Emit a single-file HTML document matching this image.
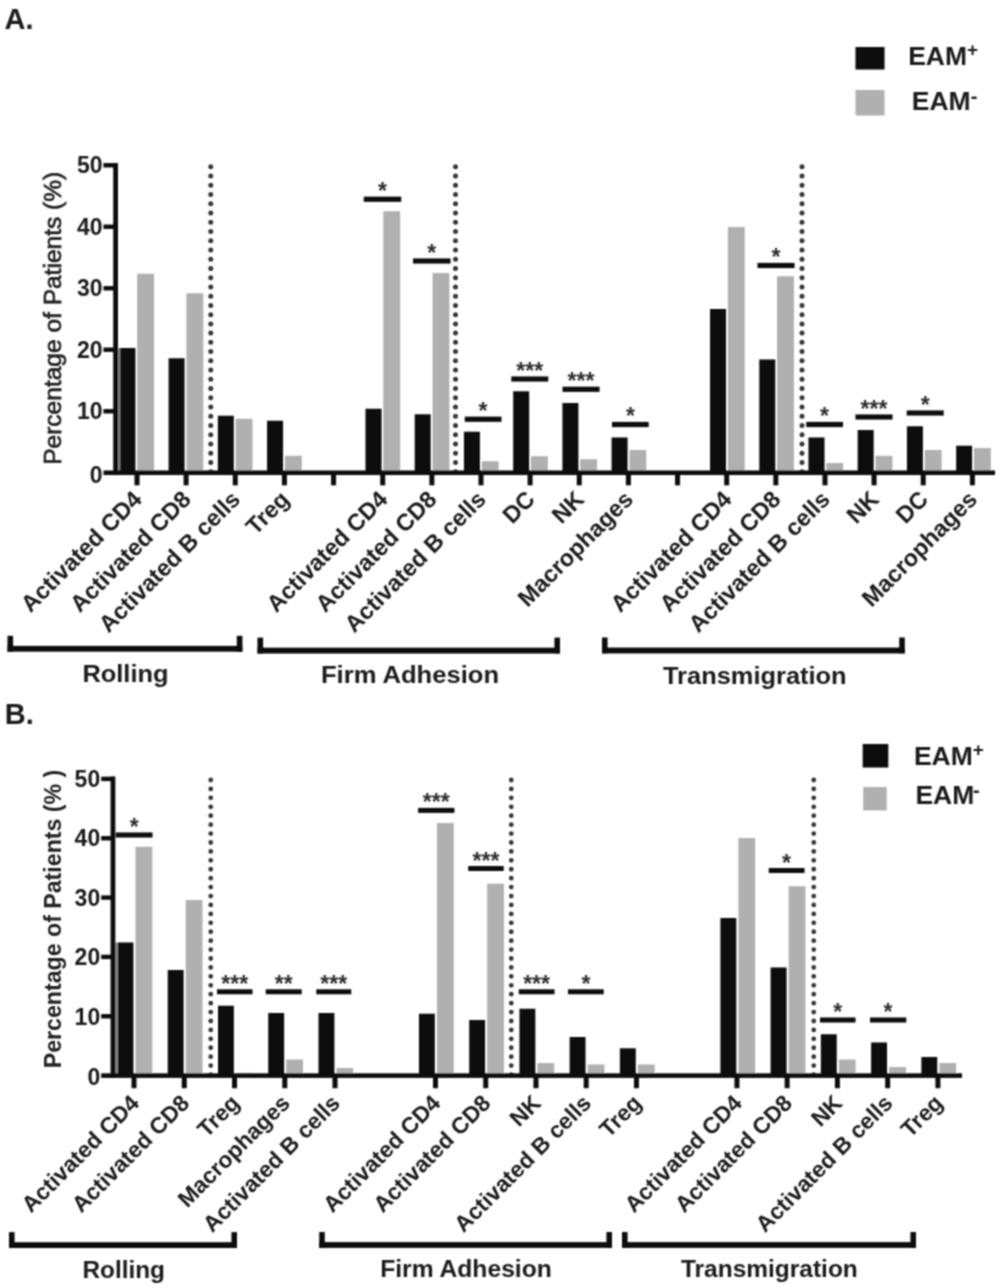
<!DOCTYPE html>
<html lang="en"><head><meta charset="utf-8"><title>Figure</title>
<style>html,body{margin:0;padding:0;background:#fff}svg{display:block;font-family:'Liberation Sans', sans-serif}</style>
</head><body>
<svg width="1000" height="1288" viewBox="0 0 1000 1288">
<defs><filter id="soft" filterUnits="userSpaceOnUse" x="0" y="0" width="1000" height="1288"><feConvolveMatrix order="3" kernelMatrix="1 2 1 2 4 2 1 2 1" divisor="16" edgeMode="duplicate" preserveAlpha="false"/></filter></defs>
<rect width="1000" height="1288" fill="#fff"/>
<g filter="url(#soft)">
<rect x="119.40" y="348.00" width="16.00" height="124.75" fill="#0d0d0d"/>
<rect x="137.20" y="273.75" width="16.90" height="199.00" fill="#b0b0b0"/>
<rect x="168.62" y="358.25" width="16.00" height="114.50" fill="#0d0d0d"/>
<rect x="186.42" y="293.25" width="16.90" height="179.50" fill="#b0b0b0"/>
<rect x="217.84" y="415.75" width="16.00" height="57.00" fill="#0d0d0d"/>
<rect x="235.64" y="418.75" width="16.90" height="54.00" fill="#b0b0b0"/>
<rect x="267.06" y="420.75" width="16.00" height="52.00" fill="#0d0d0d"/>
<rect x="284.86" y="455.75" width="16.90" height="17.00" fill="#b0b0b0"/>
<rect x="365.50" y="408.75" width="16.00" height="64.00" fill="#0d0d0d"/>
<rect x="383.30" y="211.25" width="16.90" height="261.50" fill="#b0b0b0"/>
<rect x="414.72" y="414.25" width="16.00" height="58.50" fill="#0d0d0d"/>
<rect x="432.52" y="273.00" width="16.90" height="199.75" fill="#b0b0b0"/>
<rect x="463.94" y="431.75" width="16.00" height="41.00" fill="#0d0d0d"/>
<rect x="481.74" y="461.25" width="16.90" height="11.50" fill="#b0b0b0"/>
<rect x="513.16" y="391.25" width="16.00" height="81.50" fill="#0d0d0d"/>
<rect x="530.96" y="456.25" width="16.90" height="16.50" fill="#b0b0b0"/>
<rect x="562.38" y="403.00" width="16.00" height="69.75" fill="#0d0d0d"/>
<rect x="580.18" y="459.25" width="16.90" height="13.50" fill="#b0b0b0"/>
<rect x="611.60" y="437.50" width="16.00" height="35.25" fill="#0d0d0d"/>
<rect x="629.40" y="450.00" width="16.90" height="22.75" fill="#b0b0b0"/>
<rect x="710.04" y="309.00" width="16.00" height="163.75" fill="#0d0d0d"/>
<rect x="727.84" y="227.00" width="16.90" height="245.75" fill="#b0b0b0"/>
<rect x="759.26" y="359.50" width="16.00" height="113.25" fill="#0d0d0d"/>
<rect x="777.06" y="276.25" width="16.90" height="196.50" fill="#b0b0b0"/>
<rect x="808.48" y="437.50" width="16.00" height="35.25" fill="#0d0d0d"/>
<rect x="826.28" y="463.00" width="16.90" height="9.75" fill="#b0b0b0"/>
<rect x="857.70" y="430.00" width="16.00" height="42.75" fill="#0d0d0d"/>
<rect x="875.50" y="455.75" width="16.90" height="17.00" fill="#b0b0b0"/>
<rect x="906.92" y="426.25" width="16.00" height="46.50" fill="#0d0d0d"/>
<rect x="924.72" y="450.00" width="16.90" height="22.75" fill="#b0b0b0"/>
<rect x="956.14" y="445.75" width="16.00" height="27.00" fill="#0d0d0d"/>
<rect x="973.94" y="448.00" width="16.90" height="24.75" fill="#b0b0b0"/>
<line x1="210.75" y1="166.75" x2="210.75" y2="472.0" stroke="#383838" stroke-width="5.0" stroke-linecap="round" stroke-dasharray="0 9.243"/>
<line x1="455.5" y1="166.75" x2="455.5" y2="472.0" stroke="#383838" stroke-width="5.0" stroke-linecap="round" stroke-dasharray="0 9.243"/>
<line x1="802.0" y1="166.75" x2="802.0" y2="472.0" stroke="#383838" stroke-width="5.0" stroke-linecap="round" stroke-dasharray="0 9.243"/>
<rect x="117.80" y="348.00" width="2.50" height="124.75" fill="#808080"/>
<rect x="113.20" y="163.00" width="4.80" height="312.05" fill="#0d0d0d"/>
<rect x="103.50" y="470.45" width="891.50" height="4.60" fill="#0d0d0d"/>
<rect x="103.50" y="409.05" width="10.70" height="4.40" fill="#0d0d0d"/>
<rect x="103.50" y="347.55" width="10.70" height="4.40" fill="#0d0d0d"/>
<rect x="103.50" y="286.05" width="10.70" height="4.40" fill="#0d0d0d"/>
<rect x="103.50" y="224.55" width="10.70" height="4.40" fill="#0d0d0d"/>
<rect x="103.50" y="163.05" width="10.70" height="4.40" fill="#0d0d0d"/>
<text x="102.5" y="483.2" text-anchor="end" font-size="23" font-weight="bold" fill="#1a1a1a">0</text>
<text x="102.5" y="419.4" text-anchor="end" font-size="23" font-weight="bold" fill="#1a1a1a">10</text>
<text x="102.5" y="357.9" text-anchor="end" font-size="23" font-weight="bold" fill="#1a1a1a">20</text>
<text x="102.5" y="296.4" text-anchor="end" font-size="23" font-weight="bold" fill="#1a1a1a">30</text>
<text x="102.5" y="234.9" text-anchor="end" font-size="23" font-weight="bold" fill="#1a1a1a">40</text>
<text x="102.5" y="173.4" text-anchor="end" font-size="23" font-weight="bold" fill="#1a1a1a">50</text>
<rect x="134.50" y="472.75" width="5.00" height="12.55" fill="#0d0d0d"/>
<rect x="183.64" y="472.75" width="5.00" height="12.55" fill="#0d0d0d"/>
<rect x="232.78" y="472.75" width="5.00" height="12.55" fill="#0d0d0d"/>
<rect x="281.92" y="472.75" width="5.00" height="12.55" fill="#0d0d0d"/>
<rect x="331.06" y="472.75" width="5.00" height="12.55" fill="#0d0d0d"/>
<rect x="380.20" y="472.75" width="5.00" height="12.55" fill="#0d0d0d"/>
<rect x="429.34" y="472.75" width="5.00" height="12.55" fill="#0d0d0d"/>
<rect x="478.48" y="472.75" width="5.00" height="12.55" fill="#0d0d0d"/>
<rect x="527.62" y="472.75" width="5.00" height="12.55" fill="#0d0d0d"/>
<rect x="576.76" y="472.75" width="5.00" height="12.55" fill="#0d0d0d"/>
<rect x="625.90" y="472.75" width="5.00" height="12.55" fill="#0d0d0d"/>
<rect x="675.04" y="472.75" width="5.00" height="12.55" fill="#0d0d0d"/>
<rect x="724.18" y="472.75" width="5.00" height="12.55" fill="#0d0d0d"/>
<rect x="773.32" y="472.75" width="5.00" height="12.55" fill="#0d0d0d"/>
<rect x="822.46" y="472.75" width="5.00" height="12.55" fill="#0d0d0d"/>
<rect x="871.60" y="472.75" width="5.00" height="12.55" fill="#0d0d0d"/>
<rect x="920.74" y="472.75" width="5.00" height="12.55" fill="#0d0d0d"/>
<rect x="969.88" y="472.75" width="5.00" height="12.55" fill="#0d0d0d"/>
<rect x="363.75" y="196.65" width="37.50" height="5.20" fill="#0d0d0d"/>
<text x="382.5" y="198.8" text-anchor="middle" font-size="23" font-weight="bold" fill="#2e2e2e">*</text>
<rect x="413.00" y="258.40" width="37.50" height="5.20" fill="#0d0d0d"/>
<text x="431.8" y="260.6" text-anchor="middle" font-size="23" font-weight="bold" fill="#2e2e2e">*</text>
<rect x="464.75" y="416.65" width="36.75" height="5.20" fill="#0d0d0d"/>
<text x="483.1" y="418.8" text-anchor="middle" font-size="23" font-weight="bold" fill="#2e2e2e">*</text>
<rect x="511.25" y="376.40" width="37.00" height="5.20" fill="#0d0d0d"/>
<text x="529.8" y="378.6" text-anchor="middle" font-size="23" font-weight="bold" fill="#2e2e2e">***</text>
<rect x="562.50" y="386.70" width="37.00" height="5.20" fill="#0d0d0d"/>
<text x="581.0" y="388.9" text-anchor="middle" font-size="23" font-weight="bold" fill="#2e2e2e">***</text>
<rect x="612.00" y="421.90" width="36.75" height="5.20" fill="#0d0d0d"/>
<text x="630.4" y="424.1" text-anchor="middle" font-size="23" font-weight="bold" fill="#2e2e2e">*</text>
<rect x="757.50" y="262.90" width="37.00" height="5.20" fill="#0d0d0d"/>
<text x="776.0" y="265.1" text-anchor="middle" font-size="23" font-weight="bold" fill="#2e2e2e">*</text>
<rect x="806.25" y="421.90" width="36.75" height="5.20" fill="#0d0d0d"/>
<text x="824.6" y="424.1" text-anchor="middle" font-size="23" font-weight="bold" fill="#2e2e2e">*</text>
<rect x="855.50" y="414.40" width="37.00" height="5.20" fill="#0d0d0d"/>
<text x="874.0" y="416.6" text-anchor="middle" font-size="23" font-weight="bold" fill="#2e2e2e">***</text>
<rect x="906.75" y="410.40" width="37.00" height="5.20" fill="#0d0d0d"/>
<text x="925.2" y="412.6" text-anchor="middle" font-size="23" font-weight="bold" fill="#2e2e2e">*</text>
<text transform="translate(143.2,500.8) rotate(-45)" text-anchor="end" font-size="23.5" font-weight="bold" fill="#1a1a1a">Activated CD4</text>
<text transform="translate(192.3,500.8) rotate(-45)" text-anchor="end" font-size="23.5" font-weight="bold" fill="#1a1a1a">Activated CD8</text>
<text transform="translate(241.5,500.8) rotate(-45)" text-anchor="end" font-size="23.5" font-weight="bold" fill="#1a1a1a">Activated B cells</text>
<text transform="translate(290.6,500.8) rotate(-45)" text-anchor="end" font-size="23.5" font-weight="bold" fill="#1a1a1a">Treg</text>
<text transform="translate(388.9,500.8) rotate(-45)" text-anchor="end" font-size="23.5" font-weight="bold" fill="#1a1a1a">Activated CD4</text>
<text transform="translate(438.0,500.8) rotate(-45)" text-anchor="end" font-size="23.5" font-weight="bold" fill="#1a1a1a">Activated CD8</text>
<text transform="translate(487.2,500.8) rotate(-45)" text-anchor="end" font-size="23.5" font-weight="bold" fill="#1a1a1a">Activated B cells</text>
<text transform="translate(536.3,500.8) rotate(-45)" text-anchor="end" font-size="23.5" font-weight="bold" fill="#1a1a1a">DC</text>
<text transform="translate(585.5,500.8) rotate(-45)" text-anchor="end" font-size="23.5" font-weight="bold" fill="#1a1a1a">NK</text>
<text transform="translate(634.6,500.8) rotate(-45)" text-anchor="end" font-size="23.5" font-weight="bold" fill="#1a1a1a">Macrophages</text>
<text transform="translate(732.9,500.8) rotate(-45)" text-anchor="end" font-size="23.5" font-weight="bold" fill="#1a1a1a">Activated CD4</text>
<text transform="translate(782.0,500.8) rotate(-45)" text-anchor="end" font-size="23.5" font-weight="bold" fill="#1a1a1a">Activated CD8</text>
<text transform="translate(831.2,500.8) rotate(-45)" text-anchor="end" font-size="23.5" font-weight="bold" fill="#1a1a1a">Activated B cells</text>
<text transform="translate(880.3,500.8) rotate(-45)" text-anchor="end" font-size="23.5" font-weight="bold" fill="#1a1a1a">NK</text>
<text transform="translate(929.4,500.8) rotate(-45)" text-anchor="end" font-size="23.5" font-weight="bold" fill="#1a1a1a">DC</text>
<text transform="translate(978.6,500.8) rotate(-45)" text-anchor="end" font-size="23.5" font-weight="bold" fill="#1a1a1a">Macrophages</text>
<rect x="7.50" y="645.90" width="234.90" height="5.80" fill="#0d0d0d"/>
<rect x="7.50" y="635.80" width="5.60" height="15.90" fill="#0d0d0d"/>
<rect x="236.80" y="635.80" width="5.60" height="15.90" fill="#0d0d0d"/>
<text x="82.4" y="681.8" font-size="24" font-weight="bold" textLength="86.2" lengthAdjust="spacingAndGlyphs" fill="#1a1a1a">Rolling</text>
<rect x="257.50" y="647.70" width="302.50" height="5.80" fill="#0d0d0d"/>
<rect x="257.50" y="637.60" width="5.60" height="15.90" fill="#0d0d0d"/>
<rect x="554.40" y="637.60" width="5.60" height="15.90" fill="#0d0d0d"/>
<text x="321.0" y="683.4" font-size="24" font-weight="bold" textLength="178.0" lengthAdjust="spacingAndGlyphs" fill="#1a1a1a">Firm Adhesion</text>
<rect x="602.00" y="647.60" width="302.80" height="5.80" fill="#0d0d0d"/>
<rect x="602.00" y="637.50" width="5.60" height="15.90" fill="#0d0d0d"/>
<rect x="899.20" y="637.50" width="5.60" height="15.90" fill="#0d0d0d"/>
<text x="663.0" y="683.6" font-size="24" font-weight="bold" textLength="183.6" lengthAdjust="spacingAndGlyphs" fill="#1a1a1a">Transmigration</text>
<text transform="translate(61,318.3) rotate(-90)" text-anchor="middle" font-size="24.8" font-weight="normal" textLength="293" lengthAdjust="spacingAndGlyphs" fill="#242424" stroke="#242424" stroke-width="0.7">Percentage of Patients (%)</text>
<rect x="855.50" y="47.00" width="29.00" height="22.50" fill="#0d0d0d"/>
<text x="908.2" y="64.8" font-size="26.5" font-weight="bold" fill="#1a1a1a">EAM<tspan font-size="19" dx="0" dy="-9">+</tspan></text>
<rect x="855.50" y="90.00" width="29.00" height="25.50" fill="#b0b0b0"/>
<text x="911.8" y="110" font-size="26.5" font-weight="bold" fill="#1a1a1a">EAM<tspan font-size="20" dx="0" dy="-7.5">-</tspan></text>
<text x="4.5" y="29.4" font-size="29" font-weight="bold" fill="#1a1a1a">A.</text>
</g>
<g filter="url(#soft)">
<rect x="117.50" y="942.50" width="15.90" height="133.10" fill="#0d0d0d"/>
<rect x="135.50" y="846.75" width="16.80" height="228.85" fill="#b0b0b0"/>
<rect x="167.74" y="970.00" width="15.90" height="105.60" fill="#0d0d0d"/>
<rect x="185.74" y="900.00" width="16.80" height="175.60" fill="#b0b0b0"/>
<rect x="217.98" y="1005.75" width="15.90" height="69.85" fill="#0d0d0d"/>
<rect x="235.98" y="1072.80" width="16.80" height="2.80" fill="#b0b0b0"/>
<rect x="268.22" y="1013.00" width="15.90" height="62.60" fill="#0d0d0d"/>
<rect x="286.22" y="1059.50" width="16.80" height="16.10" fill="#b0b0b0"/>
<rect x="318.46" y="1013.00" width="15.90" height="62.60" fill="#0d0d0d"/>
<rect x="336.46" y="1068.00" width="16.80" height="7.60" fill="#b0b0b0"/>
<rect x="418.94" y="1013.75" width="15.90" height="61.85" fill="#0d0d0d"/>
<rect x="436.94" y="823.00" width="16.80" height="252.60" fill="#b0b0b0"/>
<rect x="469.18" y="1020.00" width="15.90" height="55.60" fill="#0d0d0d"/>
<rect x="487.18" y="883.75" width="16.80" height="191.85" fill="#b0b0b0"/>
<rect x="519.42" y="1008.75" width="15.90" height="66.85" fill="#0d0d0d"/>
<rect x="537.42" y="1063.00" width="16.80" height="12.60" fill="#b0b0b0"/>
<rect x="569.66" y="1037.00" width="15.90" height="38.60" fill="#0d0d0d"/>
<rect x="587.66" y="1064.50" width="16.80" height="11.10" fill="#b0b0b0"/>
<rect x="619.90" y="1048.25" width="15.90" height="27.35" fill="#0d0d0d"/>
<rect x="637.90" y="1064.50" width="16.80" height="11.10" fill="#b0b0b0"/>
<rect x="720.38" y="918.00" width="15.90" height="157.60" fill="#0d0d0d"/>
<rect x="738.38" y="838.00" width="16.80" height="237.60" fill="#b0b0b0"/>
<rect x="770.62" y="967.50" width="15.90" height="108.10" fill="#0d0d0d"/>
<rect x="788.62" y="886.25" width="16.80" height="189.35" fill="#b0b0b0"/>
<rect x="820.86" y="1034.25" width="15.90" height="41.35" fill="#0d0d0d"/>
<rect x="838.86" y="1059.50" width="16.80" height="16.10" fill="#b0b0b0"/>
<rect x="871.10" y="1042.50" width="15.90" height="33.10" fill="#0d0d0d"/>
<rect x="889.10" y="1067.00" width="16.80" height="8.60" fill="#b0b0b0"/>
<rect x="921.34" y="1057.00" width="15.90" height="18.60" fill="#0d0d0d"/>
<rect x="939.34" y="1063.00" width="16.80" height="12.60" fill="#b0b0b0"/>
<line x1="210.75" y1="780.0" x2="210.75" y2="1074.6" stroke="#383838" stroke-width="4.8" stroke-linecap="round" stroke-dasharray="0 8.925"/>
<line x1="511.25" y1="780.0" x2="511.25" y2="1074.6" stroke="#383838" stroke-width="4.8" stroke-linecap="round" stroke-dasharray="0 8.925"/>
<line x1="813.75" y1="780.0" x2="813.75" y2="1074.6" stroke="#383838" stroke-width="4.8" stroke-linecap="round" stroke-dasharray="0 8.925"/>
<rect x="115.20" y="942.50" width="2.60" height="133.10" fill="#808080"/>
<rect x="110.60" y="776.40" width="4.70" height="301.50" fill="#0d0d0d"/>
<rect x="101.20" y="1073.30" width="860.80" height="4.60" fill="#0d0d0d"/>
<rect x="101.20" y="1014.06" width="10.40" height="4.40" fill="#0d0d0d"/>
<rect x="101.20" y="954.72" width="10.40" height="4.40" fill="#0d0d0d"/>
<rect x="101.20" y="895.38" width="10.40" height="4.40" fill="#0d0d0d"/>
<rect x="101.20" y="836.04" width="10.40" height="4.40" fill="#0d0d0d"/>
<rect x="101.20" y="776.70" width="10.40" height="4.40" fill="#0d0d0d"/>
<text x="100.2" y="1085.1" text-anchor="end" font-size="23" font-weight="bold" fill="#1a1a1a">0</text>
<text x="100.2" y="1024.5" text-anchor="end" font-size="23" font-weight="bold" fill="#1a1a1a">10</text>
<text x="100.2" y="965.1" text-anchor="end" font-size="23" font-weight="bold" fill="#1a1a1a">20</text>
<text x="100.2" y="905.8" text-anchor="end" font-size="23" font-weight="bold" fill="#1a1a1a">30</text>
<text x="100.2" y="846.4" text-anchor="end" font-size="23" font-weight="bold" fill="#1a1a1a">40</text>
<text x="100.2" y="787.1" text-anchor="end" font-size="23" font-weight="bold" fill="#1a1a1a">50</text>
<rect x="131.55" y="1075.60" width="5.00" height="12.60" fill="#0d0d0d"/>
<rect x="181.79" y="1075.60" width="5.00" height="12.60" fill="#0d0d0d"/>
<rect x="232.03" y="1075.60" width="5.00" height="12.60" fill="#0d0d0d"/>
<rect x="282.27" y="1075.60" width="5.00" height="12.60" fill="#0d0d0d"/>
<rect x="332.51" y="1075.60" width="5.00" height="12.60" fill="#0d0d0d"/>
<rect x="432.99" y="1075.60" width="5.00" height="12.60" fill="#0d0d0d"/>
<rect x="483.23" y="1075.60" width="5.00" height="12.60" fill="#0d0d0d"/>
<rect x="533.47" y="1075.60" width="5.00" height="12.60" fill="#0d0d0d"/>
<rect x="583.71" y="1075.60" width="5.00" height="12.60" fill="#0d0d0d"/>
<rect x="633.95" y="1075.60" width="5.00" height="12.60" fill="#0d0d0d"/>
<rect x="734.43" y="1075.60" width="5.00" height="12.60" fill="#0d0d0d"/>
<rect x="784.67" y="1075.60" width="5.00" height="12.60" fill="#0d0d0d"/>
<rect x="834.91" y="1075.60" width="5.00" height="12.60" fill="#0d0d0d"/>
<rect x="885.15" y="1075.60" width="5.00" height="12.60" fill="#0d0d0d"/>
<rect x="935.39" y="1075.60" width="5.00" height="12.60" fill="#0d0d0d"/>
<rect x="115.80" y="832.50" width="36.70" height="5.00" fill="#0d0d0d"/>
<text x="134.2" y="835.0" text-anchor="middle" font-size="23" font-weight="bold" fill="#2e2e2e">*</text>
<rect x="217.00" y="989.25" width="35.50" height="5.00" fill="#0d0d0d"/>
<text x="234.8" y="991.8" text-anchor="middle" font-size="23" font-weight="bold" fill="#2e2e2e">***</text>
<rect x="265.75" y="989.25" width="36.00" height="5.00" fill="#0d0d0d"/>
<text x="283.8" y="991.8" text-anchor="middle" font-size="23" font-weight="bold" fill="#2e2e2e">**</text>
<rect x="316.25" y="989.25" width="35.00" height="5.00" fill="#0d0d0d"/>
<text x="333.8" y="991.8" text-anchor="middle" font-size="23" font-weight="bold" fill="#2e2e2e">***</text>
<rect x="418.10" y="807.90" width="36.30" height="5.00" fill="#0d0d0d"/>
<text x="436.2" y="810.4" text-anchor="middle" font-size="23" font-weight="bold" fill="#2e2e2e">***</text>
<rect x="468.20" y="866.00" width="35.55" height="5.00" fill="#0d0d0d"/>
<text x="486.0" y="868.5" text-anchor="middle" font-size="23" font-weight="bold" fill="#2e2e2e">***</text>
<rect x="518.75" y="989.25" width="35.75" height="5.00" fill="#0d0d0d"/>
<text x="536.6" y="991.8" text-anchor="middle" font-size="23" font-weight="bold" fill="#2e2e2e">***</text>
<rect x="568.00" y="989.25" width="35.75" height="5.00" fill="#0d0d0d"/>
<text x="585.9" y="991.8" text-anchor="middle" font-size="23" font-weight="bold" fill="#2e2e2e">*</text>
<rect x="768.75" y="868.00" width="35.75" height="5.00" fill="#0d0d0d"/>
<text x="786.6" y="870.5" text-anchor="middle" font-size="23" font-weight="bold" fill="#2e2e2e">*</text>
<rect x="820.00" y="1017.50" width="35.50" height="5.00" fill="#0d0d0d"/>
<text x="837.8" y="1020.0" text-anchor="middle" font-size="23" font-weight="bold" fill="#2e2e2e">*</text>
<rect x="870.00" y="1017.50" width="36.25" height="5.00" fill="#0d0d0d"/>
<text x="888.1" y="1020.0" text-anchor="middle" font-size="23" font-weight="bold" fill="#2e2e2e">*</text>
<text transform="translate(140.4,1104.5) rotate(-45)" text-anchor="end" font-size="22.8" font-weight="bold" fill="#1a1a1a">Activated CD4</text>
<text transform="translate(190.6,1104.5) rotate(-45)" text-anchor="end" font-size="22.8" font-weight="bold" fill="#1a1a1a">Activated CD8</text>
<text transform="translate(240.8,1104.5) rotate(-45)" text-anchor="end" font-size="22.8" font-weight="bold" fill="#1a1a1a">Treg</text>
<text transform="translate(291.1,1104.5) rotate(-45)" text-anchor="end" font-size="22.8" font-weight="bold" fill="#1a1a1a">Macrophages</text>
<text transform="translate(341.3,1104.5) rotate(-45)" text-anchor="end" font-size="22.8" font-weight="bold" fill="#1a1a1a">Activated B cells</text>
<text transform="translate(441.8,1104.5) rotate(-45)" text-anchor="end" font-size="22.8" font-weight="bold" fill="#1a1a1a">Activated CD4</text>
<text transform="translate(492.0,1104.5) rotate(-45)" text-anchor="end" font-size="22.8" font-weight="bold" fill="#1a1a1a">Activated CD8</text>
<text transform="translate(542.3,1104.5) rotate(-45)" text-anchor="end" font-size="22.8" font-weight="bold" fill="#1a1a1a">NK</text>
<text transform="translate(592.5,1104.5) rotate(-45)" text-anchor="end" font-size="22.8" font-weight="bold" fill="#1a1a1a">Activated B cells</text>
<text transform="translate(642.8,1104.5) rotate(-45)" text-anchor="end" font-size="22.8" font-weight="bold" fill="#1a1a1a">Treg</text>
<text transform="translate(743.2,1104.5) rotate(-45)" text-anchor="end" font-size="22.8" font-weight="bold" fill="#1a1a1a">Activated CD4</text>
<text transform="translate(793.5,1104.5) rotate(-45)" text-anchor="end" font-size="22.8" font-weight="bold" fill="#1a1a1a">Activated CD8</text>
<text transform="translate(843.7,1104.5) rotate(-45)" text-anchor="end" font-size="22.8" font-weight="bold" fill="#1a1a1a">NK</text>
<text transform="translate(894.0,1104.5) rotate(-45)" text-anchor="end" font-size="22.8" font-weight="bold" fill="#1a1a1a">Activated B cells</text>
<text transform="translate(944.2,1104.5) rotate(-45)" text-anchor="end" font-size="22.8" font-weight="bold" fill="#1a1a1a">Treg</text>
<rect x="9.00" y="1242.20" width="228.00" height="5.80" fill="#0d0d0d"/>
<rect x="9.00" y="1232.10" width="5.60" height="15.90" fill="#0d0d0d"/>
<rect x="231.40" y="1232.10" width="5.60" height="15.90" fill="#0d0d0d"/>
<text x="82.4" y="1277.5" font-size="23.5" font-weight="bold" textLength="82.6" lengthAdjust="spacingAndGlyphs" fill="#1a1a1a">Rolling</text>
<rect x="319.20" y="1242.10" width="292.80" height="5.80" fill="#0d0d0d"/>
<rect x="319.20" y="1232.00" width="5.60" height="15.90" fill="#0d0d0d"/>
<rect x="606.40" y="1232.00" width="5.60" height="15.90" fill="#0d0d0d"/>
<text x="380.2" y="1277.4" font-size="23.5" font-weight="bold" textLength="171.6" lengthAdjust="spacingAndGlyphs" fill="#1a1a1a">Firm Adhesion</text>
<rect x="622.00" y="1242.10" width="294.00" height="5.80" fill="#0d0d0d"/>
<rect x="622.00" y="1232.00" width="5.60" height="15.90" fill="#0d0d0d"/>
<rect x="910.40" y="1232.00" width="5.60" height="15.90" fill="#0d0d0d"/>
<text x="681.0" y="1277.4" font-size="23.5" font-weight="bold" textLength="176.8" lengthAdjust="spacingAndGlyphs" fill="#1a1a1a">Transmigration</text>
<text transform="translate(61.3,919) rotate(-90)" text-anchor="middle" font-size="23.3" font-weight="bold" textLength="298.5" lengthAdjust="spacingAndGlyphs" fill="#242424" stroke="#242424" stroke-width="0">Percentage of Patients (% )</text>
<rect x="862.70" y="744.00" width="25.60" height="23.50" fill="#0d0d0d"/>
<text x="913.9" y="764.5" font-size="26.5" font-weight="bold" fill="#1a1a1a">EAM<tspan font-size="19" dx="0" dy="-9">+</tspan></text>
<rect x="863.20" y="787.00" width="23.50" height="23.40" fill="#b0b0b0"/>
<text x="915.4" y="804.3" font-size="26.5" font-weight="bold" fill="#1a1a1a">EAM<tspan font-size="20" dx="-1.2" dy="-7.5">-</tspan></text>
<text x="4.7" y="724" font-size="29" font-weight="bold" fill="#1a1a1a">B.</text>
</g>
</svg></body></html>
